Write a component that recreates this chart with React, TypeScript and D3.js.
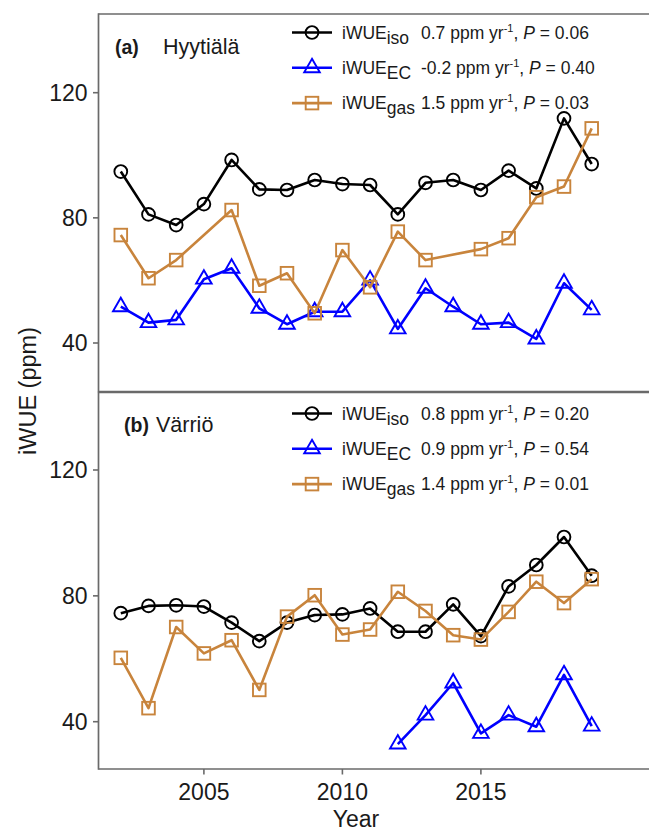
import React, { useEffect } from "react";
import * as d3 from "d3";

const years = [2002, 2003, 2004, 2005, 2006, 2007, 2008, 2009, 2010, 2011, 2012, 2013, 2014, 2015, 2016, 2017, 2018, 2019];

// Panel (a) Hyytiälä
const hyyIso = [94.8, 81.1, 77.7, 84.4, 98.5, 89.1, 88.9, 92.1, 90.8, 90.5, 81.1, 91.2, 92.1, 88.9, 95.1, 89.4, 111.8, 97.2];
const hyyEC = [51.6, 46.5, 47.4, 60.4, 63.9, 51.1, 46.0, 50.0, 50.0, 60.1, 44.5, 57.5, 51.6, 46.0, 46.5, 41.3, 59.1, 50.6];
const hyyGas = [74.5, 60.7, 66.5, null, 82.5, 58.3, 62.3, 49.5, 69.7, 57.8, 75.6, 66.5, null, 70.0, 73.5, 86.6, 90.0, 108.6];

// Panel (b) Värriö
const varIso = [74.5, 76.8, 77.0, 76.6, 71.5, 65.6, 71.5, 73.9, 74.1, 76.0, 68.6, 68.6, 77.3, 67.2, 83.0, 89.8, 98.7, 86.4];
const varEC = [null, null, null, null, null, null, null, null, null, null, 32.9, 42.1, 52.3, 36.3, 42.1, 38.4, 54.9, 38.6];
const varGas = [60.3, 44.3, 70.1, 61.7, 65.9, 50.1, 73.4, 80.2, 67.7, 69.3, 81.3, 75.2, 67.5, 66.1, 74.9, 84.5, 77.7, 85.3];

const yTicks = [40, 80, 120];
const xTicks = [2005, 2010, 2015];

const seriesNames = ["iso", "EC", "gas"];
const seriesColors = ["#000000", "#0000ff", "#c8843c"];
const seriesShapes = ["circle", "triangle", "square"];

const panelTags = ["(a)", "(b)"];
const panelSites = ["Hyytiälä", "Värriö"];
const hyyStats = [["0.7", "0.06"], ["-0.2", "0.40"], ["1.5", "0.03"]];
const varStats = [["0.8", "0.20"], ["0.9", "0.54"], ["1.4", "0.01"]];

const FONT = "'Liberation Sans', Arial, Helvetica, sans-serif";
const AXIS_COLOR = "#6a6a6a";

const x = d3.scaleLinear().domain([2002, 2019]).range([120.8, 591.7]);

type Panel = {
  top: number;
  bottom: number;
  y: d3.ScaleLinear<number, number>;
  series: (number | null)[][];
  stats: string[][];
  tag: string;
  site: string;
  tagX: number;
  siteX: number;
  titleY: number;
  legendY: number;
};

const panels: Panel[] = [
  {
    top: 14,
    bottom: 391.5,
    y: d3.scaleLinear().domain([40, 120]).range([343, 92.7]),
    series: [hyyIso, hyyEC, hyyGas],
    stats: hyyStats,
    tag: panelTags[0],
    site: panelSites[0],
    tagX: 115,
    siteX: 163,
    titleY: 54,
    legendY: 32.5,
  },
  {
    top: 392.5,
    bottom: 769,
    y: d3.scaleLinear().domain([40, 120]).range([721.7, 470]),
    series: [varIso, varEC, varGas],
    stats: varStats,
    tag: panelTags[1],
    site: panelSites[1],
    tagX: 124,
    siteX: 156,
    titleY: 432,
    legendY: 413.5,
  },
];

function Marker({ shape, cx, cy, color }: { shape: string; cx: number; cy: number; color: string }) {
  const sw = 1.9;
  if (shape === "circle") {
    return <circle cx={cx} cy={cy} r={6.4} fill="none" stroke={color} strokeWidth={sw} />;
  }
  if (shape === "square") {
    return <rect x={cx - 6.3} y={cy - 6.3} width={12.6} height={12.6} fill="none" stroke={color} strokeWidth={sw} />;
  }
  const tri = d3.symbol().type(d3.symbolTriangle).size(105)();
  return <path d={tri || ""} transform={`translate(${cx},${cy})`} fill="none" stroke={color} strokeWidth={sw} />;
}

export default function App() {
  useEffect(() => {
    document.body.style.margin = "0";
    document.body.style.overflow = "hidden";
    document.documentElement.style.overflow = "hidden";
  }, []);
  const left = 98.5;
  const right = 649;
  return (
    <svg
      width={649}
      height={831}
      style={{ position: "fixed", left: 0, top: 0, background: "#fff", overflow: "hidden", display: "block" }}
      fontFamily={FONT}
    >
      <rect x={0} y={0} width={649} height={831} fill="#ffffff" />
      {panels.map((p, pi) => {
        const line = d3
          .line<[number, number]>()
          .x((d) => x(d[0]))
          .y((d) => p.y(d[1]));
        return (
          <g key={pi}>
            {/* data */}
            {p.series.map((vals, si) => {
              const pts: [number, number][] = [];
              vals.forEach((v, i) => {
                if (v !== null) pts.push([years[i], v]);
              });
              return (
                <g key={si}>
                  <path d={line(pts) || ""} fill="none" stroke={seriesColors[si]} strokeWidth={2.6} strokeLinejoin="round" />
                  {pts.map((d, k) => (
                    <Marker key={k} shape={seriesShapes[si]} cx={x(d[0])} cy={p.y(d[1])} color={seriesColors[si]} />
                  ))}
                </g>
              );
            })}
            {/* panel border (left, top, bottom) */}
            <line x1={left} x2={right} y1={p.top} y2={p.top} stroke={AXIS_COLOR} strokeWidth={1.7} />
            <line x1={left} x2={right} y1={p.bottom} y2={p.bottom} stroke={AXIS_COLOR} strokeWidth={1.7} />
            <line x1={left} x2={left} y1={p.top - 0.85} y2={p.bottom + 0.85} stroke={AXIS_COLOR} strokeWidth={1.7} />
            {/* y ticks */}
            {yTicks.map((t) => (
              <g key={t}>
                <line x1={left - 5.5} x2={left} y1={p.y(t)} y2={p.y(t)} stroke={AXIS_COLOR} strokeWidth={1.6} />
                <text x={left - 11} y={p.y(t)} dy="0.36em" textAnchor="end" fontSize={23} fill="#1a1a1a">
                  {t}
                </text>
              </g>
            ))}
            {/* title */}
            <text x={p.tagX} y={p.titleY} fontSize={19.5} fontWeight="bold" fill="#1a1a1a">
              {p.tag}
            </text>
            <text x={p.siteX} y={p.titleY} fontSize={21.5} fill="#1a1a1a">
              {p.site}
            </text>
            {/* legend */}
            {seriesNames.map((name, si) => {
              const ly = p.legendY + si * 35.3;
              return (
                <g key={name}>
                  <line x1={292} x2={332} y1={ly} y2={ly} stroke={seriesColors[si]} strokeWidth={2.6} />
                  <Marker shape={seriesShapes[si]} cx={312} cy={ly} color={seriesColors[si]} />
                  <text x={342} y={ly + 6} fontSize={17.5} fill="#1a1a1a">
                    iWUE
                    <tspan dy={5}>{name}</tspan>
                  </text>
                  <text x={421} y={ly + 6} fontSize={17.5} fill="#1a1a1a">
                    {p.stats[si][0]} ppm yr
                    <tspan dy={-7} fontSize={11}>
                      -1
                    </tspan>
                    <tspan dy={7}>, </tspan>
                    <tspan fontStyle="italic">P</tspan>
                    <tspan> = {p.stats[si][1]}</tspan>
                  </text>
                </g>
              );
            })}
          </g>
        );
      })}
      {/* x axis */}
      {xTicks.map((t) => (
        <g key={t}>
          <line x1={x(t)} x2={x(t)} y1={769} y2={774.5} stroke={AXIS_COLOR} strokeWidth={1.6} />
          <text x={x(t)} y={800} textAnchor="middle" fontSize={23} fill="#1a1a1a">
            {t}
          </text>
        </g>
      ))}
      <text x={356} y={827} textAnchor="middle" fontSize={23} fill="#1a1a1a">
        Year
      </text>
      <text transform="translate(36,391) rotate(-90)" textAnchor="middle" fontSize={23.5} fill="#1a1a1a">
        iWUE (ppm)
      </text>
    </svg>
  );
}
